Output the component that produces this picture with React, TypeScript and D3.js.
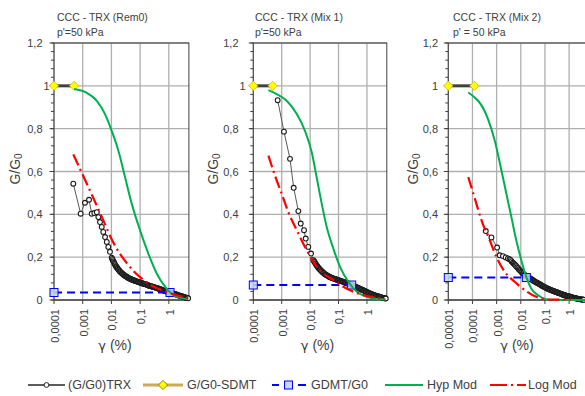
import React from "react";
import * as d3 from "d3";

const W = 585;
const H = 396;
const FONT = "'Liberation Sans', Arial, sans-serif";
const TXT = "#404040";

// ---------- text / tick labels ----------
const titleLine1 = ["CCC - TRX (Rem0)", "CCC - TRX (Mix 1)", "CCC - TRX (Mix 2)"];
const titleLine2 = ["p'=50 kPa", "p'=50 kPa", "p' = 50 kPa"];
const yTickValues = [0, 0.2, 0.4, 0.6, 0.8, 1, 1.2];
const yTickLabels = ["0", "0,2", "0,4", "0,6", "0,8", "1", "1,2"];
const xTickValuesA = [0.0001, 0.001, 0.01, 0.1, 1];
const xTickLabelsA = ["0,0001", "0,001", "0,01", "0,1", "1"];
const xTickValuesB = [0.00001, 0.0001, 0.001, 0.01, 0.1, 1];
const xTickLabelsB = ["0,00001", "0,0001", "0,001", "0,01", "0,1", "1"];
const legendLabels = ["(G/G0)TRX", "G/G0-SDMT", "GDMT/G0", "Hyp Mod", "Log Mod"];

// ---------- data: [gamma (%), G/G0] ----------
// Panel 1 (Rem0)
const trx1: [number, number][] = [
  [0.00047, 0.543], [0.00085, 0.403], [0.0012, 0.454], [0.00166, 0.468], [0.00206, 0.403],
  [0.00254, 0.406], [0.0031, 0.41], [0.0035, 0.387], [0.004, 0.364], [0.0046, 0.341],
  [0.0052, 0.318], [0.006, 0.294], [0.0069, 0.271], [0.0078, 0.248], [0.0089, 0.225],
  [0.0102, 0.198], [0.0107, 0.192], [0.0112, 0.186], [0.0118, 0.18], [0.0124, 0.174],
  [0.013, 0.168], [0.0137, 0.163], [0.0144, 0.158], [0.0151, 0.154], [0.0159, 0.15],
  [0.0167, 0.146], [0.0176, 0.142], [0.0186, 0.138], [0.0196, 0.134], [0.0207, 0.131],
  [0.0219, 0.128], [0.0232, 0.125], [0.0246, 0.122], [0.026, 0.119], [0.0275, 0.117],
  [0.029, 0.114], [0.0307, 0.112], [0.0324, 0.11], [0.0342, 0.108], [0.0361, 0.106],
  [0.0382, 0.104], [0.0404, 0.102], [0.0427, 0.1], [0.0452, 0.099], [0.0478, 0.097],
  [0.0505, 0.096], [0.0534, 0.095], [0.0565, 0.093], [0.0597, 0.092], [0.0632, 0.091],
  [0.0668, 0.089], [0.0706, 0.088], [0.0747, 0.087], [0.079, 0.086], [0.0835, 0.085],
  [0.0883, 0.084], [0.0934, 0.083], [0.0988, 0.082], [0.104, 0.08], [0.11, 0.079],
  [0.117, 0.078], [0.124, 0.077], [0.131, 0.076], [0.138, 0.075], [0.146, 0.074],
  [0.155, 0.073], [0.164, 0.072], [0.173, 0.071], [0.183, 0.07], [0.194, 0.068],
  [0.205, 0.067], [0.217, 0.066], [0.229, 0.065], [0.242, 0.064], [0.256, 0.063],
  [0.271, 0.062], [0.287, 0.061], [0.303, 0.06], [0.321, 0.059], [0.339, 0.058],
  [0.359, 0.057], [0.38, 0.056], [0.401, 0.055], [0.425, 0.054], [0.449, 0.053],
  [0.475, 0.052], [0.502, 0.05], [0.531, 0.049], [0.562, 0.048], [0.594, 0.047],
  [0.628, 0.045], [0.664, 0.044], [0.703, 0.043], [0.743, 0.042], [0.786, 0.041],
  [0.831, 0.04], [0.879, 0.039], [0.93, 0.038], [0.983, 0.037], [1.04, 0.036],
  [1.1, 0.035], [1.16, 0.034], [1.23, 0.033], [1.3, 0.032], [1.37, 0.031],
  [1.45, 0.03], [1.54, 0.029], [1.62, 0.028], [1.72, 0.027], [1.82, 0.026],
  [1.92, 0.025], [2.03, 0.024], [2.15, 0.022], [2.27, 0.021], [2.4, 0.02],
  [2.54, 0.019], [2.69, 0.018], [2.84, 0.017], [3.0, 0.016], [3.18, 0.015],
  [3.36, 0.014], [3.55, 0.013], [3.76, 0.012], [3.97, 0.011], [4.2, 0.01],
  [4.44, 0.009], [4.7, 0.008],
];
const sdmt1: [number, number][] = [[0.0001, 1], [0.0005, 1]];
const gdmt1: [number, number][] = [[0.0001, 0.035], [1.1, 0.035]];
const hyp1: [number, number][] = [
  [0.0005, 0.985], [0.0013, 0.969], [0.0031, 0.93], [0.006, 0.868], [0.0102, 0.79],
  [0.0174, 0.698], [0.0298, 0.574], [0.051, 0.45], [0.099, 0.326], [0.193, 0.217],
  [0.379, 0.124], [0.74, 0.062], [1.44, 0.023], [4.8, 0.003],
];
const log1: [number, number][] = [
  [0.00047, 0.68], [0.001, 0.585], [0.0018, 0.51], [0.0031, 0.44], [0.0055, 0.365],
  [0.0105, 0.28], [0.02, 0.215], [0.038, 0.165], [0.07, 0.125], [0.135, 0.093],
  [0.29, 0.063], [0.643, 0.043], [1.44, 0.027], [4.8, 0.008],
];

// Panel 2 (Mix 1)
const trx2: [number, number][] = [
  [0.00072, 0.933], [0.0012, 0.786], [0.00196, 0.659], [0.00264, 0.524], [0.00385, 0.415],
  [0.00467, 0.357], [0.0061, 0.326], [0.007, 0.287], [0.0086, 0.248], [0.0108, 0.217],
  [0.013, 0.186], [0.0138, 0.181], [0.0146, 0.176], [0.0155, 0.17], [0.0164, 0.165],
  [0.0174, 0.16], [0.0184, 0.155], [0.0195, 0.151], [0.0207, 0.147], [0.0219, 0.143],
  [0.0232, 0.14], [0.0246, 0.136], [0.0261, 0.133], [0.0277, 0.13], [0.0293, 0.127],
  [0.0311, 0.124], [0.033, 0.121], [0.0349, 0.119], [0.037, 0.117], [0.0392, 0.115],
  [0.0416, 0.113], [0.0441, 0.111], [0.0467, 0.109], [0.0495, 0.107], [0.0525, 0.106],
  [0.0557, 0.104], [0.059, 0.103], [0.0625, 0.102], [0.0663, 0.1], [0.0702, 0.099],
  [0.0745, 0.098], [0.079, 0.097], [0.0837, 0.096], [0.0887, 0.095], [0.094, 0.094],
  [0.0997, 0.093], [0.106, 0.091], [0.112, 0.09], [0.119, 0.089], [0.126, 0.088],
  [0.133, 0.087], [0.141, 0.086], [0.15, 0.084], [0.159, 0.083], [0.168, 0.082],
  [0.178, 0.081], [0.189, 0.08], [0.2, 0.078], [0.212, 0.077], [0.225, 0.076],
  [0.239, 0.075], [0.253, 0.073], [0.268, 0.072], [0.284, 0.071], [0.301, 0.069],
  [0.319, 0.068], [0.338, 0.066], [0.359, 0.065], [0.38, 0.063], [0.403, 0.061],
  [0.427, 0.06], [0.453, 0.058], [0.48, 0.057], [0.509, 0.055], [0.539, 0.054],
  [0.572, 0.052], [0.606, 0.051], [0.642, 0.049], [0.681, 0.048], [0.722, 0.046],
  [0.765, 0.045], [0.811, 0.043], [0.86, 0.041], [0.911, 0.04], [0.966, 0.038],
  [1.02, 0.036], [1.09, 0.035], [1.15, 0.033], [1.22, 0.032], [1.29, 0.03],
  [1.37, 0.029], [1.45, 0.027], [1.54, 0.026], [1.63, 0.025], [1.73, 0.023],
  [1.83, 0.022], [1.94, 0.021], [2.06, 0.02], [2.18, 0.019], [2.31, 0.018],
  [2.45, 0.017], [2.6, 0.016], [2.75, 0.015], [2.92, 0.014], [3.09, 0.013],
  [3.28, 0.012], [3.48, 0.011], [3.68, 0.01], [3.9, 0.009], [4.14, 0.008],
  [4.39, 0.008], [4.6, 0.007],
];
const sdmt2: [number, number][] = [[0.0001, 1], [0.00048, 1]];
const gdmt2: [number, number][] = [[0.0001, 0.07], [0.29, 0.07]];
const hyp2: [number, number][] = [
  [0.00034, 0.98], [0.00067, 0.961], [0.0015, 0.93], [0.0034, 0.868], [0.0066, 0.79],
  [0.0114, 0.69], [0.017, 0.573], [0.0256, 0.45], [0.0384, 0.341], [0.0657, 0.24],
  [0.113, 0.155], [0.221, 0.085], [0.44, 0.039], [0.98, 0.015], [2.2, 0.005], [4.6, 0.002],
];
const log2: [number, number][] = [
  [0.00034, 0.674], [0.00058, 0.581], [0.001, 0.496], [0.0017, 0.411], [0.0034, 0.326],
  [0.0066, 0.248], [0.013, 0.178], [0.029, 0.124], [0.066, 0.093], [0.148, 0.062],
  [0.33, 0.039], [0.75, 0.023], [1.68, 0.013], [4.3, 0.005],
];

// Panel 3 (Mix 2)
const trx3: [number, number][] = [
  [0.000356, 0.322], [0.00061, 0.292], [0.00105, 0.245], [0.00134, 0.209], [0.00183, 0.205],
  [0.00237, 0.199], [0.00294, 0.194], [0.0034, 0.19], [0.0038, 0.186], [0.0042, 0.18],
  [0.0047, 0.174], [0.0051, 0.17], [0.0056, 0.166], [0.006, 0.162], [0.0065, 0.158],
  [0.0071, 0.153], [0.0077, 0.149], [0.0083, 0.144], [0.0089, 0.14], [0.0097, 0.136],
  [0.0105, 0.132], [0.0113, 0.128], [0.0122, 0.124], [0.0131, 0.121], [0.014, 0.118],
  [0.0152, 0.115], [0.0165, 0.112], [0.018, 0.11], [0.0196, 0.108], [0.021, 0.105],
  [0.0225, 0.103], [0.024, 0.101], [0.0257, 0.099], [0.0275, 0.097], [0.0294, 0.095],
  [0.0315, 0.092], [0.0337, 0.09], [0.036, 0.088], [0.0385, 0.086], [0.0412, 0.084],
  [0.044, 0.082], [0.0471, 0.08], [0.0504, 0.079], [0.0539, 0.077], [0.0577, 0.075],
  [0.0617, 0.073], [0.066, 0.071], [0.0706, 0.069], [0.0756, 0.067], [0.0808, 0.065],
  [0.0865, 0.063], [0.0925, 0.062], [0.099, 0.06], [0.106, 0.058], [0.113, 0.056],
  [0.121, 0.055], [0.13, 0.053], [0.139, 0.052], [0.148, 0.05], [0.159, 0.049],
  [0.17, 0.047], [0.182, 0.046], [0.194, 0.045], [0.208, 0.043], [0.222, 0.042],
  [0.238, 0.041], [0.255, 0.04], [0.272, 0.038], [0.291, 0.037], [0.312, 0.036],
  [0.333, 0.035], [0.357, 0.033], [0.382, 0.032], [0.408, 0.031], [0.437, 0.03],
  [0.467, 0.028], [0.5, 0.027], [0.535, 0.026], [0.572, 0.025], [0.612, 0.024],
  [0.655, 0.023], [0.701, 0.021], [0.75, 0.02], [0.802, 0.019], [0.858, 0.019],
  [0.918, 0.018], [0.982, 0.017], [1.05, 0.016], [1.12, 0.015], [1.2, 0.014],
  [1.29, 0.013], [1.38, 0.012], [1.47, 0.011], [1.58, 0.01], [1.69, 0.009],
  [1.81, 0.008], [1.93, 0.008], [2.07, 0.007], [2.21, 0.006], [2.37, 0.005],
  [2.53, 0.005], [2.71, 0.004], [2.9, 0.003], [3.1, 0.003], [3.32, 0.002],
  [3.55, 0.002], [3.8, 0.001], [4.0, 0.001],
];
const sdmt3: [number, number][] = [[0.00001, 1], [0.00012, 1]];
const gdmt3: [number, number][] = [[0.00001, 0.105], [0.017, 0.105]];
const hyp3: [number, number][] = [
  [0.000067, 0.969], [0.00044, 0.845], [0.00084, 0.744], [0.00158, 0.605], [0.00253, 0.496],
  [0.00406, 0.388], [0.0065, 0.279], [0.0105, 0.186], [0.0168, 0.108], [0.027, 0.054],
  [0.0506, 0.023], [0.11, 0.004], [0.28, 0.0], [5, 0.0],
];
const log3: [number, number][] = [
  [0.000067, 0.574], [0.000126, 0.473], [0.000237, 0.372], [0.00052, 0.279], [0.00098, 0.201],
  [0.00215, 0.132], [0.0056, 0.085], [0.0143, 0.047], [0.0434, 0.015], [0.153, 0.002],
  [1.2, 0.002],
];

// ---------- layout ----------
type Panel = {
  x0: number; x1: number; xMin: number; xMax: number;
  xTicks: number[]; xLabels: string[];
  titleX: number; yTitleX: number; xTitleX: number; yLabelEnd: number; oneShift: number;
  trx: [number, number][]; sdmt: [number, number][]; gdmt: [number, number][];
  hyp: [number, number][]; log: [number, number][];
};

const panels: Panel[] = [
  { x0: 54, x1: 188.9, xMin: 0.0001, xMax: 5, xTicks: xTickValuesA, xLabels: xTickLabelsA,
    titleX: 57, yTitleX: 15, xTitleX: 115, yLabelEnd: 42.5, oneShift: 7,
    trx: trx1, sdmt: sdmt1, gdmt: gdmt1, hyp: hyp1, log: log1 },
  { x0: 253.3, x1: 386.8, xMin: 0.0001, xMax: 5, xTicks: xTickValuesA, xLabels: xTickLabelsA,
    titleX: 255, yTitleX: 213, xTitleX: 317.5, yLabelEnd: 238.5, oneShift: 7,
    trx: trx2, sdmt: sdmt2, gdmt: gdmt2, hyp: hyp2, log: log2 },
  { x0: 448.3, x1: 586, xMin: 0.00001, xMax: 5, xTicks: xTickValuesB, xLabels: xTickLabelsB,
    titleX: 453, yTitleX: 413, xTitleX: 517, yLabelEnd: 438, oneShift: 0,
    trx: trx3, sdmt: sdmt3, gdmt: gdmt3, hyp: hyp3, log: log3 },
];

const Y_TOP = 43;
const Y_BOT = 300;
const yScale = d3.scaleLinear().domain([0, 1.2]).range([Y_BOT, Y_TOP]);
const yMinor = d3.range(0, 1.2001, 0.04);

const diamond = (cx: number, cy: number, r: number) =>
  `M${cx},${cy - r}L${cx + r},${cy}L${cx},${cy + r}L${cx - r},${cy}Z`;

function ChartPanel({ p, i }: { p: Panel; i: number }) {
  const xs = d3.scaleLog().domain([p.xMin, p.xMax]).range([p.x0, p.x1]);
  const line = d3.line<[number, number]>().x((d) => xs(d[0])).y((d) => yScale(d[1]));
  const smooth = d3.line<[number, number]>()
    .x((d) => xs(d[0])).y((d) => yScale(d[1])).curve(d3.curveMonotoneX);
  const w = p.x1 - p.x0;
  return (
    <g>
      {/* titles */}
      <text x={p.titleX} y={21} fontSize={10.5} fill={TXT}>{titleLine1[i]}</text>
      <text x={p.titleX} y={36} fontSize={10.5} fill={TXT}>{titleLine2[i]}</text>

      {/* gridlines */}
      {yTickValues.map((v) => (
        <line key={"gy" + v} x1={p.x0} x2={p.x1} y1={yScale(v)} y2={yScale(v)}
          stroke="#AFAFAF" strokeWidth={1.3} />
      ))}
      {p.xTicks.map((v) => (
        <line key={"gx" + v} x1={xs(v)} x2={xs(v)} y1={Y_TOP} y2={Y_BOT}
          stroke="#AFAFAF" strokeWidth={1.3} />
      ))}
      <rect x={p.x0} y={Y_TOP} width={w} height={Y_BOT - Y_TOP} fill="none"
        stroke="#404040" strokeWidth={1} />

      {/* y axis ticks */}
      {yMinor.map((v, k) => (
        <line key={"ym" + k} x1={p.x0 - 3} x2={p.x0} y1={yScale(v)} y2={yScale(v)}
          stroke="#404040" strokeWidth={1} />
      ))}
      {yTickValues.map((v) => (
        <line key={"yt" + v} x1={p.x0 - 4.5} x2={p.x0} y1={yScale(v)} y2={yScale(v)}
          stroke="#404040" strokeWidth={1} />
      ))}
      {yTickValues.map((v, k) => (
        <text key={"yl" + v} x={p.yLabelEnd + (v === 1 ? p.oneShift : 0)} y={yScale(v)}
          textAnchor="end" dominantBaseline="central" fontSize={11} fill={TXT}>
          {yTickLabels[k]}
        </text>
      ))}

      {/* x axis ticks */}
      <line x1={p.x0} x2={p.x1} y1={Y_BOT} y2={Y_BOT} stroke="#404040" strokeWidth={1} />
      {p.xTicks.map((v) => (
        <line key={"xt" + v} x1={xs(v)} x2={xs(v)} y1={Y_BOT} y2={Y_BOT + 4}
          stroke="#404040" strokeWidth={1} />
      ))}
      {p.xTicks.map((v, k) => (
        <text key={"xl" + v} transform={`translate(${xs(v)},${309}) rotate(-90)`}
          textAnchor="end" dy="0.45em" fontSize={11} fill={TXT}>
          {p.xLabels[k]}
        </text>
      ))}

      {/* axis titles */}
      <text x={p.xTitleX} y={350} textAnchor="middle" fontSize={14} fill={TXT}>
        <tspan fontFamily="'DejaVu Sans', sans-serif" fontSize={13}>γ</tspan> (%)
      </text>
      <text transform={`translate(${p.yTitleX},169) rotate(-90)`} textAnchor="middle"
        dominantBaseline="central" fontSize={14} fill={TXT}>
        G/G<tspan fontSize={10} dy={3}>0</tspan>
      </text>

      {/* TRX */}
      <path d={line(p.trx) || ""} fill="none" stroke="#595959" strokeWidth={1} />
      {p.trx.map((d, k) => (
        <circle key={"c" + k} cx={xs(d[0])} cy={yScale(d[1])} r={2.4} fill="#fff"
          stroke="#1a1a1a" strokeWidth={1.1} />
      ))}

      {/* SDMT */}
      <path d={line(p.sdmt) || ""} fill="none" stroke="#404040" strokeWidth={3} />
      {p.sdmt.map((d, k) => (
        <path key={"d" + k} d={diamond(xs(d[0]), yScale(d[1]), 4.6)} fill="#FFFF00"
          stroke="#D9B300" strokeWidth={0.8} />
      ))}

      {/* GDMT */}
      <path d={line(p.gdmt) || ""} fill="none" stroke="#0000FF" strokeWidth={2}
        strokeDasharray="8,5" />
      {p.gdmt.map((d, k) => (
        <rect key={"s" + k} x={xs(d[0]) - 4} y={yScale(d[1]) - 4} width={8} height={8}
          fill="#C9D7F3" fillOpacity={0.85} stroke="#0000FF" strokeWidth={1} />
      ))}

      {/* Hyp model */}
      <path d={smooth(p.hyp) || ""} fill="none" stroke="#00B050" strokeWidth={2} />

      {/* Log model */}
      <path d={smooth(p.log) || ""} fill="none" stroke="#FF0000" strokeWidth={2.2}
        strokeDasharray="12,4,2,4" />
    </g>
  );
}

function Legend() {
  const y = 385;
  const ts = { fontSize: 12.5, fill: TXT, dominantBaseline: "central" as const };
  return (
    <g>
      <line x1={28} x2={65} y1={y} y2={y} stroke="#262626" strokeWidth={1.5} />
      <circle cx={46.5} cy={y} r={2.4} fill="#fff" stroke="#262626" strokeWidth={1} />
      <text x={68} y={y} {...ts}>{legendLabels[0]}</text>

      <line x1={143} x2={183} y1={y} y2={y} stroke="#CDAA55" strokeWidth={3} />
      <path d={diamond(163, y, 4.6)} fill="#FFFF00" stroke="#8C7000" strokeWidth={0.9} />
      <text x={187} y={y} {...ts}>{legendLabels[1]}</text>

      <line x1={272} x2={279} y1={y} y2={y} stroke="#0000FF" strokeWidth={2} />
      <line x1={298} x2={306} y1={y} y2={y} stroke="#0000FF" strokeWidth={2} />
      <rect x={284.5} y={y - 4} width={8} height={8} fill="#C9D7F3" stroke="#0000FF" strokeWidth={1} />
      <text x={311} y={y} {...ts}>{legendLabels[2]}</text>

      <line x1={385} x2={423} y1={y} y2={y} stroke="#00B050" strokeWidth={2} />
      <text x={427} y={y} {...ts}>{legendLabels[3]}</text>

      <line x1={490} x2={526} y1={y} y2={y} stroke="#FF0000" strokeWidth={2.2}
        strokeDasharray="17,4,2,4" />
      <text x={528} y={y} {...ts}>{legendLabels[4]}</text>
    </g>
  );
}

export default function App() {
  return (
    <svg width={W} height={H} viewBox={`0 0 ${W} ${H}`}
      style={{ position: "absolute", left: 0, top: 0, background: "#fff" }}
      fontFamily={FONT}>
      <rect x={0} y={0} width={W} height={H} fill="#fff" />
      {panels.map((p, i) => (
        <ChartPanel key={i} p={p} i={i} />
      ))}
      <Legend />
    </svg>
  );
}
